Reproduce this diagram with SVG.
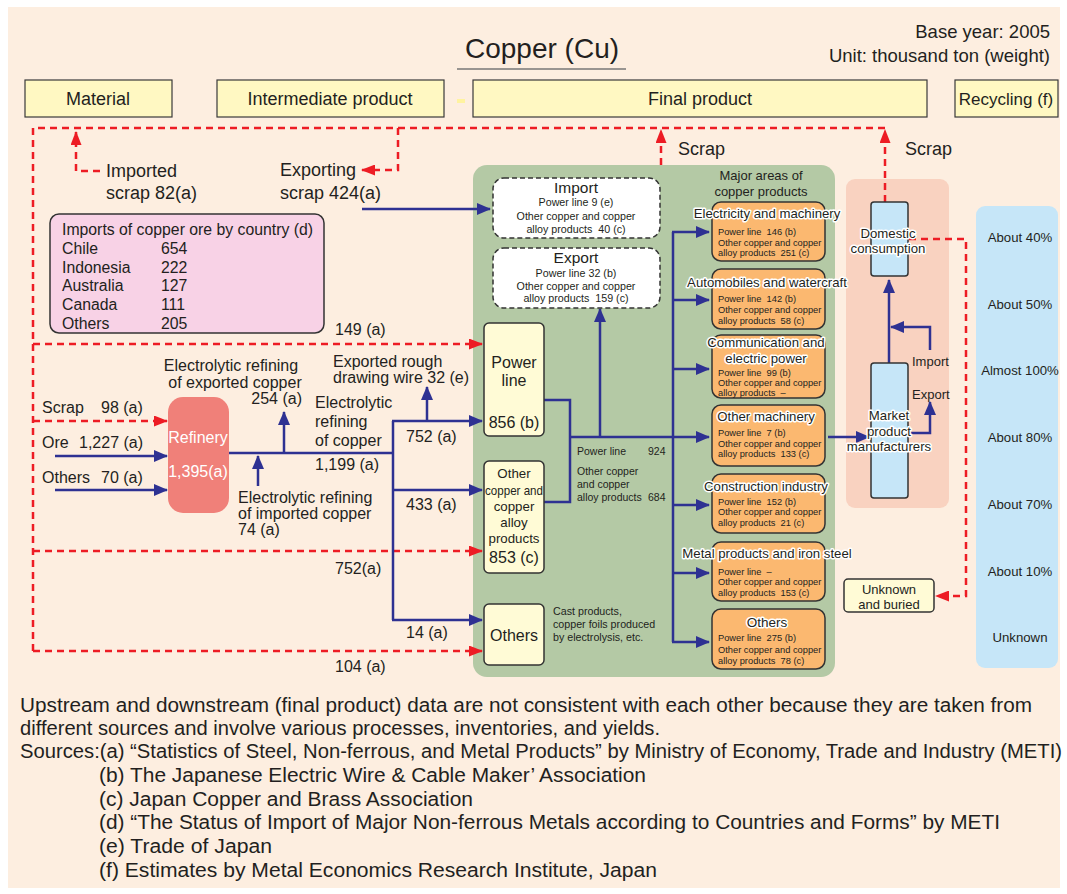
<svg xmlns="http://www.w3.org/2000/svg" width="1067" height="894" viewBox="0 0 1067 894">
<style>
text{font-family:"Liberation Sans",Arial,sans-serif;fill:#231f20;white-space:pre}
.hdr{fill:#fff8c2;stroke:#3a3a3a;stroke-width:1.2}
.blue{fill:none;stroke:#2e3192;stroke-width:2.5}
.red{fill:none;stroke:#ed1c24;stroke-width:2.5;stroke-dasharray:7 5}
.org{fill:#fbb870;stroke:#333;stroke-width:1.5}
.crm{fill:#fffbd6;stroke:#333;stroke-width:1.5}
.dash{fill:#fff;stroke:#333;stroke-width:1.5;stroke-dasharray:5 3}
.lb{fill:#c6e6f8;stroke:#333;stroke-width:1.5}
.halo{stroke:#fff;stroke-width:3;stroke-linejoin:round;paint-order:stroke}
.t18{font-size:18px}
.t16{font-size:16px}
.s9{font-size:9.3px}
.s10{font-size:10.5px}
.s13{font-size:13.2px}
.c{text-anchor:middle}
.r{text-anchor:end}
.w{fill:#fff}
.foot{font-size:20px}
</style>
<defs>
<marker id="ab" viewBox="0 0 14 12" refX="13" refY="6" markerWidth="14" markerHeight="12" markerUnits="userSpaceOnUse" orient="auto"><path d="M0,0 L14,6 L0,12 Z" fill="#2e3192"/></marker>
<marker id="ar" viewBox="0 0 14 11" refX="13" refY="5.5" markerWidth="14" markerHeight="11" markerUnits="userSpaceOnUse" orient="auto"><path d="M0,0 L14,5.5 L0,11 Z" fill="#ed1c24"/></marker>
</defs>
<rect x="0" y="0" width="1067" height="894" fill="#fff"/>
<rect x="8" y="7" width="1052" height="881" fill="#fdeee0"/>

<g id="title">
<text x="542" y="58" class="c" font-size="28">Copper (Cu)</text>
<line x1="457" y1="69" x2="626" y2="69" stroke="#777" stroke-width="1.5"/>
<text x="1050" y="38" class="r" font-size="18.5">Base year: 2005</text>
<text x="1050" y="62" class="r" font-size="18.5">Unit: thousand ton (weight)</text>
</g>

<g id="headers">
<rect class="hdr" x="25" y="80" width="147" height="37"/>
<text x="98" y="105" class="c t18">Material</text>
<rect class="hdr" x="217" y="80" width="227" height="37"/>
<text x="330" y="105" class="c t18">Intermediate product</text>
<rect x="457" y="99" width="8" height="4" fill="#fff3a0"/>
<rect class="hdr" x="473" y="80" width="454" height="37"/>
<text x="700" y="105" class="c t18">Final product</text>
<rect class="hdr" x="955" y="80" width="103" height="37"/>
<text x="1006" y="105" class="c" font-size="17">Recycling (f)</text>
</g>

<g id="panels">
<rect id="green-panel" x="473" y="165" width="362" height="512" rx="14" fill="#b4c9a5"/>
<rect id="pink-panel" x="846" y="179" width="103" height="329" rx="9" fill="#f9d2c0"/>
<rect id="blue-panel" x="976" y="206" width="82" height="462" rx="9" fill="#c6e6f8"/>
</g>

<g id="connectors">
<!-- red dashed scrap flows -->
<polyline class="red" points="33,651 33,128 885,128"/>
<polyline class="red" points="100,171 76,171 76,132" marker-end="url(#ar)"/>
<polyline class="red" points="398,128 398,170 362,170" marker-end="url(#ar)"/>
<line class="red" x1="661" y1="165" x2="661" y2="130" marker-end="url(#ar)"/>
<line class="red" x1="885" y1="202" x2="885" y2="130" marker-end="url(#ar)"/>
<line class="red" x1="33" y1="344" x2="482" y2="344" marker-end="url(#ar)"/>
<line class="red" x1="33" y1="421" x2="167" y2="421" marker-end="url(#ar)"/>
<line class="red" x1="33" y1="551" x2="482" y2="551" marker-end="url(#ar)"/>
<line class="red" x1="33" y1="651" x2="482" y2="651" marker-end="url(#ar)"/>
<polyline class="red" points="909,239 966,239 966,596 936,596" marker-end="url(#ar)"/>
<!-- blue flows -->
<line class="blue" x1="362" y1="209" x2="490" y2="209" marker-end="url(#ab)"/>
<line class="blue" x1="55" y1="456" x2="167" y2="456" marker-end="url(#ab)"/>
<line class="blue" x1="55" y1="490" x2="167" y2="490" marker-end="url(#ab)"/>
<line class="blue" x1="229" y1="453" x2="393" y2="453"/>
<line class="blue" x1="284" y1="453" x2="284" y2="412" marker-end="url(#ab)"/>
<line class="blue" x1="258" y1="486" x2="258" y2="456" marker-end="url(#ab)"/>
<line class="blue" x1="393" y1="421" x2="393" y2="620"/>
<line class="blue" x1="392" y1="421" x2="482" y2="421" marker-end="url(#ab)"/>
<line class="blue" x1="427" y1="421" x2="427" y2="387" marker-end="url(#ab)"/>
<line class="blue" x1="393" y1="490" x2="482" y2="490" marker-end="url(#ab)"/>
<line class="blue" x1="392" y1="620" x2="482" y2="620" marker-end="url(#ab)"/>
<polyline class="blue" points="544,400 570,400 570,502 544,502"/>
<line class="blue" x1="570" y1="437" x2="709" y2="437" marker-end="url(#ab)"/>
<line class="blue" x1="600" y1="437" x2="600" y2="309" marker-end="url(#ab)"/>
<line class="blue" x1="673" y1="232" x2="673" y2="642"/>
<line class="blue" x1="672" y1="232" x2="709" y2="232" marker-end="url(#ab)"/>
<line class="blue" x1="673" y1="300" x2="709" y2="300" marker-end="url(#ab)"/>
<line class="blue" x1="673" y1="369" x2="709" y2="369" marker-end="url(#ab)"/>
<line class="blue" x1="673" y1="505" x2="709" y2="505" marker-end="url(#ab)"/>
<line class="blue" x1="673" y1="573" x2="709" y2="573" marker-end="url(#ab)"/>
<line class="blue" x1="672" y1="642" x2="709" y2="642" marker-end="url(#ab)"/>
<line class="blue" x1="828" y1="437" x2="869" y2="437" marker-end="url(#ab)"/>
<line class="blue" x1="889" y1="363" x2="889" y2="280" marker-end="url(#ab)"/>
<polyline class="blue" points="930,350 930,327 891,327" marker-end="url(#ab)"/>
<polyline class="blue" points="908,433 930,433 930,402" marker-end="url(#ab)"/>
</g>

<g id="flow-labels">
<text x="106" y="177" class="t18">Imported</text>
<text x="106" y="199" class="t18">scrap 82(a)</text>
<text x="280" y="176" class="t18">Exporting</text>
<text x="280" y="199" class="t18">scrap 424(a)</text>
<text x="678" y="155" class="t18">Scrap</text>
<text x="905" y="155" class="t18">Scrap</text>
<text x="335" y="335" class="t16">149 (a)</text>
<text x="42" y="413" class="t16">Scrap</text>
<text x="101" y="413" class="t16">98 (a)</text>
<text x="42" y="448" class="t16">Ore</text>
<text x="79" y="448" class="t16">1,227 (a)</text>
<text x="42" y="483" class="t16">Others</text>
<text x="101" y="483" class="t16">70 (a)</text>
<text x="231" y="371" class="c t16">Electrolytic refining</text>
<text x="235" y="388" class="c t16">of exported copper</text>
<text x="302" y="404" class="r t16">254 (a)</text>
<text x="238" y="503" class="t16">Electrolytic refining</text>
<text x="238" y="519" class="t16">of imported copper</text>
<text x="238" y="535" class="t16">74 (a)</text>
<text x="315" y="408" class="t16">Electrolytic</text>
<text x="315" y="427" class="t16">refining</text>
<text x="315" y="446" class="t16">of copper</text>
<text x="315" y="470" class="t16">1,199 (a)</text>
<text x="333" y="367" class="t16">Exported rough</text>
<text x="333" y="383" class="t16">drawing wire 32 (e)</text>
<text x="406" y="442" class="t16">752 (a)</text>
<text x="406" y="510" class="t16">433 (a)</text>
<text x="406" y="638" class="t16">14 (a)</text>
<text x="335" y="574" class="t16">752(a)</text>
<text x="335" y="672" class="t16">104 (a)</text>
<text x="577" y="455" class="s10">Power line</text>
<text x="648" y="455" class="s10">924</text>
<text x="577" y="475" class="s10">Other copper</text>
<text x="577" y="488" class="s10">and copper</text>
<text x="577" y="501" class="s10">alloy products</text>
<text x="648" y="501" class="s10">684</text>
<text x="912" y="366" font-size="13">Import</text>
<text x="912" y="399" font-size="13">Export</text>
</g>

<g id="ore-imports">
<rect x="50" y="214" width="274" height="119" rx="9" fill="#f8d2e6" stroke="#333" stroke-width="1.5"/>
<text x="62" y="235" font-size="15.8">Imports of copper ore by country (d)</text>
<text x="62" y="254" font-size="15.8">Chile</text><text x="161" y="254" font-size="15.8">654</text>
<text x="62" y="273" font-size="15.8">Indonesia</text><text x="161" y="273" font-size="15.8">222</text>
<text x="62" y="291" font-size="15.8">Australia</text><text x="161" y="291" font-size="15.8">127</text>
<text x="62" y="310" font-size="15.8">Canada</text><text x="161" y="310" font-size="15.8">111</text>
<text x="62" y="329" font-size="15.8">Others</text><text x="161" y="329" font-size="15.8">205</text>
</g>

<g id="refinery">
<rect x="168" y="397" width="61" height="116" rx="15" fill="#f08079"/>
<text x="198" y="443" class="c t16 w">Refinery</text>
<text x="198" y="477" class="c t16 w">1,395(a)</text>
</g>

<g id="import-box">
<rect class="dash" x="493" y="178" width="167" height="60" rx="11"/>
<text x="576" y="193" class="c" font-size="15.5">Import</text>
<text x="576" y="206" class="c" font-size="10.7">Power line 9 (e)</text>
<text x="576" y="220" class="c" font-size="10.7">Other copper and copper</text>
<text x="576" y="233" class="c" font-size="10.7">alloy products  40 (c)</text>
</g>
<g id="export-box">
<rect class="dash" x="493" y="248" width="167" height="60" rx="11"/>
<text x="576" y="263" class="c" font-size="15.5">Export</text>
<text x="576" y="277" class="c" font-size="10.7">Power line 32 (b)</text>
<text x="576" y="290" class="c" font-size="10.7">Other copper and copper</text>
<text x="576" y="302" class="c" font-size="10.7">alloy products  159 (c)</text>
</g>

<g id="power-line">
<rect class="crm" x="484" y="323" width="60" height="113" rx="5"/>
<text x="514" y="368" class="c t16">Power</text>
<text x="514" y="386" class="c t16">line</text>
<text x="514" y="428" class="c t16">856 (b)</text>
</g>
<g id="other-copper">
<rect class="crm" x="484" y="461" width="60" height="112" rx="5"/>
<text x="514" y="478" class="c" font-size="13.3">Other</text>
<text x="514" y="495" class="c" font-size="13.3" textLength="58" lengthAdjust="spacingAndGlyphs">copper and</text>
<text x="514" y="511" class="c" font-size="13.3">copper</text>
<text x="514" y="527" class="c" font-size="13.3">alloy</text>
<text x="514" y="543" class="c" font-size="13.3">products</text>
<text x="514" y="563" class="c t16">853 (c)</text>
</g>
<g id="others-inter">
<rect class="crm" x="484" y="604" width="60" height="61" rx="5"/>
<text x="514" y="641" class="c t16">Others</text>
<text x="553" y="615" font-size="10.7">Cast products,</text>
<text x="553" y="628" font-size="10.7">copper foils produced</text>
<text x="553" y="641" font-size="10.7">by electrolysis, etc.</text>
</g>

<g id="major-areas">
<text x="761" y="180" class="c" font-size="13">Major areas of</text>
<text x="761" y="196" class="c" font-size="13">copper products</text>
</g>

<g id="electricity">
<rect class="org" x="712" y="202" width="113" height="59" rx="9"/>
<text x="767" y="218" class="c s13 halo">Electricity and machinery</text>
<text x="718" y="235" class="s9">Power line  146 (b)</text>
<text x="718" y="246" class="s9">Other copper and copper</text>
<text x="718" y="256" class="s9">alloy products  251 (c)</text>
</g>
<g id="automobiles">
<rect class="org" x="712" y="269" width="113" height="60" rx="9"/>
<text x="767" y="287" class="c s13 halo">Automobiles and watercraft</text>
<text x="718" y="302" class="s9">Power line  142 (b)</text>
<text x="718" y="313" class="s9">Other copper and copper</text>
<text x="718" y="324" class="s9">alloy products  58 (c)</text>
</g>
<g id="communication">
<rect class="org" x="712" y="335" width="113" height="63" rx="9"/>
<text x="766" y="347" class="c s13 halo">Communication and</text>
<text x="766" y="363" class="c s13 halo">electric power</text>
<text x="718" y="376" class="s9">Power line  99 (b)</text>
<text x="718" y="386" class="s9">Other copper and copper</text>
<text x="718" y="396" class="s9">alloy products  –</text>
</g>
<g id="other-machinery">
<rect class="org" x="712" y="405" width="113" height="61" rx="9"/>
<text x="766" y="421" class="c s13 halo">Other machinery</text>
<text x="718" y="436" class="s9">Power line  7 (b)</text>
<text x="718" y="447" class="s9">Other copper and copper</text>
<text x="718" y="457" class="s9">alloy products  133 (c)</text>
</g>
<g id="construction">
<rect class="org" x="712" y="474" width="113" height="59" rx="9"/>
<text x="766" y="491" class="c s13 halo">Construction industry</text>
<text x="718" y="505" class="s9">Power line  152 (b)</text>
<text x="718" y="515" class="s9">Other copper and copper</text>
<text x="718" y="526" class="s9">alloy products  21 (c)</text>
</g>
<g id="metal">
<rect class="org" x="712" y="542" width="113" height="59" rx="9"/>
<text x="767" y="558" class="c s13 halo">Metal products and iron steel</text>
<text x="718" y="575" class="s9">Power line  –</text>
<text x="718" y="585" class="s9">Other copper and copper</text>
<text x="718" y="596" class="s9">alloy products  153 (c)</text>
</g>
<g id="others-final">
<rect class="org" x="712" y="609" width="113" height="60" rx="9"/>
<text x="767" y="627" class="c halo" font-size="13.5">Others</text>
<text x="718" y="641" class="s9">Power line  275 (b)</text>
<text x="718" y="653" class="s9">Other copper and copper</text>
<text x="718" y="664" class="s9">alloy products  78 (c)</text>
</g>

<g id="domestic">
<rect class="lb" x="871" y="202" width="37" height="74" rx="3"/>
<text x="888" y="238" class="c s13 halo">Domestic</text>
<text x="888" y="253" class="c s13 halo">consumption</text>
</g>
<g id="market">
<rect class="lb" x="871" y="363" width="37" height="135" rx="3"/>
<text x="889" y="420" class="c s13 halo">Market</text>
<text x="889" y="436" class="c s13 halo">product</text>
<text x="889" y="451" class="c s13 halo">manufacturers</text>
</g>
<g id="unknown-buried">
<rect class="crm" x="844" y="579" width="90" height="33" rx="4"/>
<text x="889" y="594" class="c" font-size="13">Unknown</text>
<text x="889" y="609" class="c" font-size="13">and buried</text>
</g>

<g id="recycling-rates">
<text x="1020" y="242" class="c s13">About 40%</text>
<text x="1020" y="309" class="c s13">About 50%</text>
<text x="1020" y="375" class="c s13">Almost 100%</text>
<text x="1020" y="442" class="c s13">About 80%</text>
<text x="1020" y="509" class="c s13">About 70%</text>
<text x="1020" y="576" class="c s13">About 10%</text>
<text x="1020" y="642" class="c s13">Unknown</text>
</g>

<g id="notes">
<text x="20" y="712" class="foot" textLength="1012" lengthAdjust="spacingAndGlyphs">Upstream and downstream (final product) data are not consistent with each other because they are taken from</text>
<text x="20" y="735" class="foot" textLength="640" lengthAdjust="spacingAndGlyphs">different sources and involve various processes, inventories, and yields.</text>
<text x="20" y="758" class="foot" textLength="1042" lengthAdjust="spacingAndGlyphs">Sources:(a) “Statistics of Steel, Non-ferrous, and Metal Products” by Ministry of Economy, Trade and Industry (METI)</text>
<text x="99" y="782" class="foot" textLength="547" lengthAdjust="spacingAndGlyphs">(b) The Japanese Electric Wire &amp; Cable Maker’ Association</text>
<text x="99" y="806" class="foot" textLength="374" lengthAdjust="spacingAndGlyphs">(c) Japan Copper and Brass Association</text>
<text x="99" y="829" class="foot" textLength="901" lengthAdjust="spacingAndGlyphs">(d) “The Status of Import of Major Non-ferrous Metals according to Countries and Forms” by METI</text>
<text x="99" y="853" class="foot" textLength="173" lengthAdjust="spacingAndGlyphs">(e) Trade of Japan</text>
<text x="99" y="877" class="foot" textLength="558" lengthAdjust="spacingAndGlyphs">(f) Estimates by Metal Economics Research Institute, Japan</text>
</g>
</svg>
